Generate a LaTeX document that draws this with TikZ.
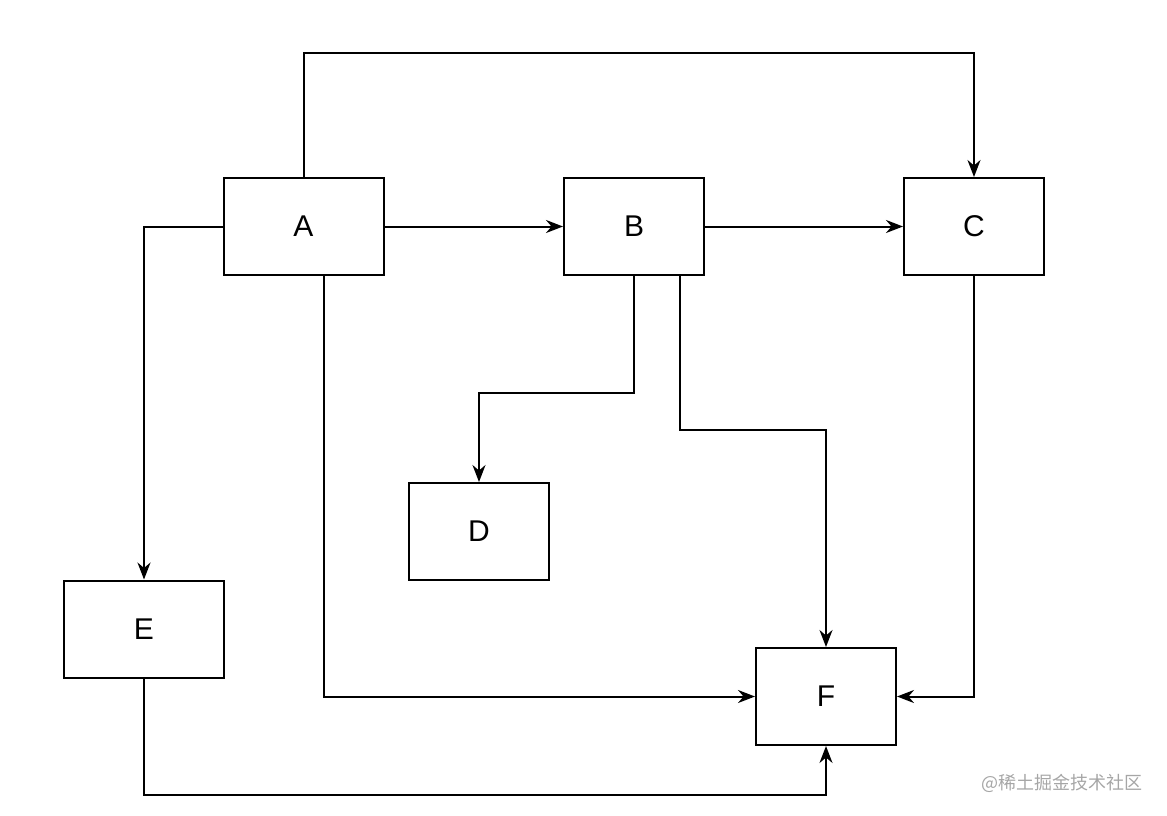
\documentclass[tikz,border=0pt]{standalone}
\usepackage{fontspec}
\setmainfont{Liberation Sans}
\newfontfamily\cjk{Noto Sans CJK SC}
\usetikzlibrary{arrows.meta}
\begin{document}
\begin{tikzpicture}[x=1pt,y=-1pt,
  box/.style={draw,line width=2pt,minimum width=140pt,minimum height=97pt,inner sep=0pt,font=\fontsize{30}{34}\selectfont},
  wide/.style={box,minimum width=160pt},
  con/.style={line width=2pt,-{Stealth[length=17pt,width=13pt]}}]
\useasboundingbox (0,0) rectangle (1167,816);
\node[wide] (A) at (303.5,226.5) {A};
\node[box] (B) at (634,226.5) {B};
\node[box] (C) at (974,226.5) {C};
\node[box] (D) at (479,531.5) {D};
\node[wide] (E) at (144,629) {E};
\node[box] (F) at (826,696.5) {F};
\draw[con] (A.north -| 304,0) |- (640,53) -| (C.north);
\draw[con] (A.west) -| (E.north);
\draw[con] (A) -- (B);
\draw[con] (B) -- (C);
\draw[con] (A.south -| 324,0) |- (F.west);
\draw[con] (B.south) |- (557,393) -| (D.north);
\draw[con] (B.south -| 680,0) |- (750,430) -| (F.north);
\draw[con] (C.south) |- (F.east);
\draw[con] (E.south) |- (500,795) -| (F.south);
\node[text=gray!70,font=\cjk\fontsize{18}{20}\selectfont,anchor=east] (w) at (1146,783) {@稀土掘金技术社区};
\end{tikzpicture}
\end{document}
